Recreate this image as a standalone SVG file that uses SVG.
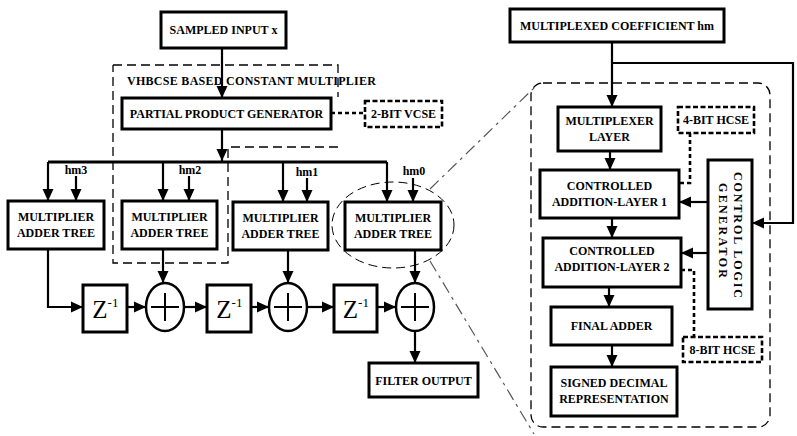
<svg xmlns="http://www.w3.org/2000/svg" width="797" height="436" viewBox="0 0 797 436">
<style>
.bx{fill:#fff;stroke:#000;stroke-width:3}
.ln{fill:none;stroke:#000;stroke-width:2.2}
.ar{fill:none;stroke:#000;stroke-width:2.2;marker-end:url(#ah)}
.dsh{fill:none;stroke:#000;stroke-width:1.3;stroke-dasharray:9 5}
.dd{fill:none;stroke:#555;stroke-width:1.2;stroke-dasharray:12 5 3 5}
.dot{fill:none;stroke:#000;stroke-width:2.6;stroke-dasharray:4 3}
.dbx{fill:#fff;stroke:#000;stroke-width:2.6;stroke-dasharray:5 2.5}
text{font-family:"Liberation Serif","Times New Roman",serif;font-weight:bold;font-size:12px;text-anchor:middle;dominant-baseline:central;fill:#000}
.z{font-weight:normal;font-size:25px}
.zs{font-weight:normal;font-size:13px}
.pl{stroke:#000;stroke-width:2;fill:none}
</style>
<defs>
<marker id="ah" markerUnits="userSpaceOnUse" markerWidth="12" markerHeight="12" viewBox="0 0 12 12" refX="12" refY="6" orient="auto">
<path d="M0,0.5 L12,6 L0,11.5 z" fill="#000"/>
</marker>
</defs>
<rect width="797" height="436" fill="#fff"/>

<g id="vhbcse-region">
<path class="dsh" d="M113,65 H338 V97 M338,147 H228 V263 H113 V65"/>
<text x="251.5" y="81" textLength="249" lengthAdjust="spacing">VHBCSE BASED  CONSTANT MULTIPLIER</text>
</g>
<g id="zoom-region">
<ellipse class="dsh" cx="393" cy="225" rx="61" ry="43" style="stroke-width:1"/>
<path class="dd" d="M430,189 L535,87 M430,261 L534,434"/>
<rect class="dsh" x="531" y="83" width="239" height="344" rx="12"/>
</g>

<g id="connectors">
<path class="ar" d="M222,48 V98"/>
<path class="dot" d="M331,113 H365"/>
<path class="ar" d="M222,129 V161"/>
<path class="ln" d="M48,162 H387" style="stroke-width:2.8"/>
<path class="ar" d="M48,162 V201"/>
<path class="ar" d="M163,162 V201"/>
<path class="ar" d="M283,162 V202"/>
<path class="ar" d="M387,162 V202"/>
<path class="ar" d="M76,176 V201"/>
<path class="ar" d="M189,176 V201"/>
<path class="ar" d="M307,178 V202"/>
<path class="ar" d="M413,178 V202"/>
<path class="ar" d="M48,249 V307 H83"/>
<path class="ar" d="M163,249 V283"/>
<path class="ar" d="M288,250 V283"/>
<path class="ar" d="M415,250 V283"/>
<path class="ar" d="M127,307 H146"/>
<path class="ar" d="M184,307 H207"/>
<path class="ar" d="M251,307 H269"/>
<path class="ar" d="M307,307 H334"/>
<path class="ar" d="M377,307 H396"/>
<path class="ar" d="M415,331 V363"/>
<path class="ar" d="M612,42 V107"/>
<path class="ar" d="M612,63 H793 V223 H752"/>
<path class="ar" d="M610,151 V170"/>
<path class="dot" d="M690,133 V183 H679"/>
<path class="ar" d="M708,202 H679"/>
<path class="ar" d="M612,218 V238"/>
<path class="ar" d="M708,253 H681"/>
<path class="dot" d="M681,270 H694 V337"/>
<path class="ar" d="M609,287 V307"/>
<path class="ar" d="M612,345 V367"/>
</g>

<g id="sampled-input"><rect class="bx" x="161" y="12" width="125" height="36"/><text x="223.5" y="30">SAMPLED INPUT x</text></g>
<g id="ppg"><rect class="bx" x="122" y="98" width="209" height="31"/><text x="226.5" y="113.5">PARTIAL PRODUCT GENERATOR</text></g>
<g id="vcse2"><rect class="dbx" x="365" y="101" width="77" height="26"/><text x="403.5" y="114">2-BIT VCSE</text></g>

<g id="hm-labels">
<text x="76" y="170">hm3</text>
<text x="190" y="170">hm2</text>
<text x="307" y="172">hm1</text>
<text x="414" y="171">hm0</text>
</g>

<g id="mat3"><rect class="bx" x="8" y="201" width="96" height="48"/><text x="56" y="217">MULTIPLIER</text><text x="56" y="233">ADDER TREE</text></g>
<g id="mat2"><rect class="bx" x="122" y="201" width="95" height="48"/><text x="169.5" y="217">MULTIPLIER</text><text x="169.5" y="233">ADDER TREE</text></g>
<g id="mat1"><rect class="bx" x="233" y="202" width="95" height="48"/><text x="280.5" y="218">MULTIPLIER</text><text x="280.5" y="234">ADDER TREE</text></g>
<g id="mat0"><rect class="bx" x="345" y="202" width="96" height="48"/><text x="393" y="218">MULTIPLIER</text><text x="393" y="234">ADDER TREE</text></g>

<g id="z1"><rect class="bx" x="83" y="285" width="44" height="47"/><text class="z" x="100" y="309">Z</text><text class="zs" x="113" y="302">-1</text></g>
<g id="z2"><rect class="bx" x="207" y="285" width="44" height="47"/><text class="z" x="224" y="309">Z</text><text class="zs" x="237" y="302">-1</text></g>
<g id="z3"><rect class="bx" x="334" y="285" width="43" height="47"/><text class="z" x="350.5" y="309">Z</text><text class="zs" x="363.5" y="302">-1</text></g>

<g id="add1"><ellipse class="bx" cx="165" cy="307" rx="19" ry="24" style="stroke-width:2.5"/><path class="pl" d="M165,293 V321 M151,307 H179"/></g>
<g id="add2"><ellipse class="bx" cx="288" cy="307" rx="19" ry="24" style="stroke-width:2.5"/><path class="pl" d="M288,293 V321 M274,307 H302"/></g>
<g id="add3"><ellipse class="bx" cx="415" cy="307" rx="19" ry="24" style="stroke-width:2.5"/><path class="pl" d="M415,293 V321 M401,307 H429"/></g>

<g id="filter-output"><rect class="bx" x="369" y="363" width="109" height="34"/><text x="423.5" y="380.5">FILTER OUTPUT</text></g>

<g id="mux-coeff"><rect class="bx" x="510" y="9" width="214" height="33"/><text x="617" y="25.5">MULTIPLEXED COEFFICIENT  hm</text></g>
<g id="mux-layer"><rect class="bx" x="558" y="107" width="103" height="44"/><text x="609.5" y="121">MULTIPLEXER</text><text x="609.5" y="137">LAYER</text></g>
<g id="hcse4"><rect class="dbx" x="678" y="107" width="76" height="26"/><text x="716" y="120">4-BIT HCSE</text></g>
<g id="cal1"><rect class="bx" x="540" y="170" width="139" height="48"/><text x="609.5" y="186">CONTROLLED</text><text x="609.5" y="202">ADDITION-LAYER 1</text></g>
<g id="cal2"><rect class="bx" x="543" y="238" width="138" height="49"/><text x="612" y="251">CONTROLLED</text><text x="612" y="267">ADDITION-LAYER 2</text></g>
<g id="ctrl"><rect class="bx" x="708" y="160" width="44" height="149"/>
<text transform="translate(738 235) rotate(90)" x="0" y="0" textLength="126" lengthAdjust="spacing">CONTROL LOGIC</text>
<text transform="translate(723 230.5) rotate(90)" x="0" y="0" textLength="95" lengthAdjust="spacing">GENERATOR</text></g>
<g id="hcse8"><rect class="dbx" x="683" y="337" width="79" height="25"/><text x="722.5" y="350">8-BIT HCSE</text></g>
<g id="final-adder"><rect class="bx" x="551" y="307" width="121" height="38"/><text x="611.5" y="326">FINAL ADDER</text></g>
<g id="signed-decimal"><rect class="bx" x="551" y="367" width="126" height="49"/><text x="614" y="383">SIGNED DECIMAL</text><text x="614" y="399">REPRESENTATION</text></g>
</svg>
